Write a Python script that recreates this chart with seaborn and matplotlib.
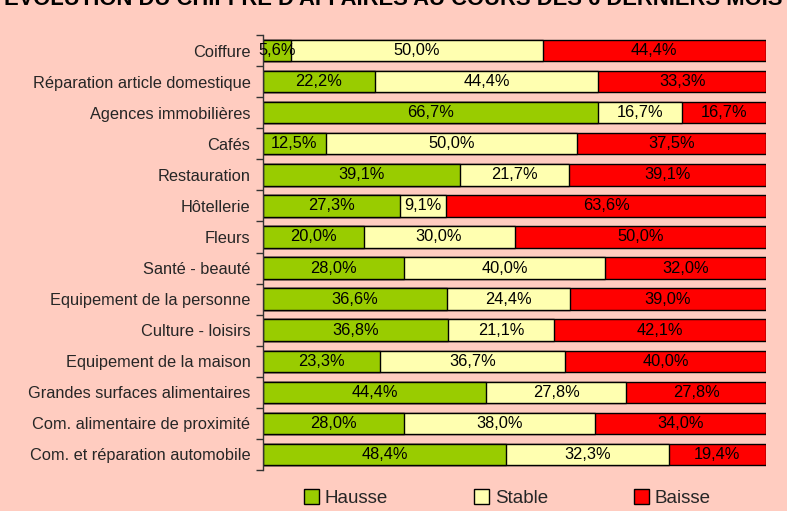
import matplotlib
matplotlib.use("Agg")
import matplotlib.pyplot as plt
import seaborn as sns
import pandas as pd
import numpy as np
from matplotlib.patches import Patch

categories = ["Coiffure", "Réparation article domestique", "Agences immobilières", "Cafés",
              "Restauration", "Hôtellerie", "Fleurs", "Santé - beauté",
              "Equipement de la personne", "Culture - loisirs", "Equipement de la maison",
              "Grandes surfaces alimentaires", "Com. alimentaire de proximité",
              "Com. et réparation automobile"]
hausse = [5.6, 22.2, 66.7, 12.5, 39.1, 27.3, 20.0, 28.0, 36.6, 36.8, 23.3, 44.4, 28.0, 48.4]
stable = [50.0, 44.4, 16.7, 50.0, 21.7, 9.1, 30.0, 40.0, 24.4, 21.1, 36.7, 27.8, 38.0, 32.3]
baisse = [44.4, 33.3, 16.7, 37.5, 39.1, 63.6, 50.0, 32.0, 39.0, 42.1, 40.0, 27.8, 34.0, 19.4]
series = ["Hausse", "Stable", "Baisse"]
colors = ["#99CC00", "#FFFFB0", "#FF0000"]

sns.set_theme(style="white")
plt.rcParams['font.family'] = ['Liberation Sans', 'DejaVu Sans']
bg = "#FFCCC0"

df = pd.DataFrame({"cat": categories, "Hausse": hausse, "Stable": stable, "Baisse": baisse})
tot = df[series].sum(axis=1)
fr = df[series].div(tot, axis=0)
df["c1"] = fr["Hausse"]
df["c2"] = fr["Hausse"] + fr["Stable"]
df["c3"] = df["c2"] + fr["Baisse"]

fig = plt.figure(figsize=(7.87, 5.11), dpi=100, facecolor=bg)
ax = fig.add_axes([263/787, 1-470/511, (766-263)/787, (470-35)/511])
ax.set_facecolor(bg)

for col, c in zip(["c3", "c2", "c1"], colors[::-1]):
    sns.barplot(data=df, y="cat", x=col, orient="h", color=c, saturation=1,
                edgecolor="black", linewidth=1, width=0.69, ax=ax)

# labels
for i, row in df.iterrows():
    starts = [0, row["c1"], row["c2"]]
    ends = [row["c1"], row["c2"], row["c3"]]
    for s, e, v in zip(starts, ends, [row["Hausse"], row["Stable"], row["Baisse"]]):
        ax.text((s + e) / 2, i, f"{v:.1f}%".replace(".", ","), ha="center", va="center",
                fontsize=11.8, color="black")

ax.set_xlim(0, 1)
ax.set_ylim(len(categories) - 0.5, -0.5)
ax.set_xlabel("")
ax.set_ylabel("")
ax.set_xticks([])
ax.set_yticks(range(len(categories)))
ax.set_yticklabels(categories, fontsize=11.8)
ax.set_yticks(np.arange(-0.5, len(categories), 1), minor=True)
ax.tick_params(axis="y", which="major", length=0, pad=9)
ax.tick_params(axis="y", which="minor", length=5, width=1, color="#333333", left=True)
for s in ["top", "right", "bottom"]:
    ax.spines[s].set_visible(False)
ax.spines["left"].set_color("#333333")
ax.spines["left"].set_linewidth(1)

handles = [Patch(facecolor=c, edgecolor="black", label=s) for s, c in zip(series, colors)]
fig.legend(handles=handles, loc="center", bbox_to_anchor=(0.645, 1-498/511), ncol=3,
           frameon=False, fontsize=13.5, handlelength=0.8, handleheight=0.8,
           handletextpad=0.3, columnspacing=4.6)

fig.text(0.5, 1-5/511, "EVOLUTION DU CHIFFRE D'AFFAIRES AU COURS DES 6 DERNIERS MOIS",
         ha="center", va="baseline", fontsize=15.8, fontweight="bold", color="black")

fig.savefig("out.png", dpi=100, facecolor=bg)
